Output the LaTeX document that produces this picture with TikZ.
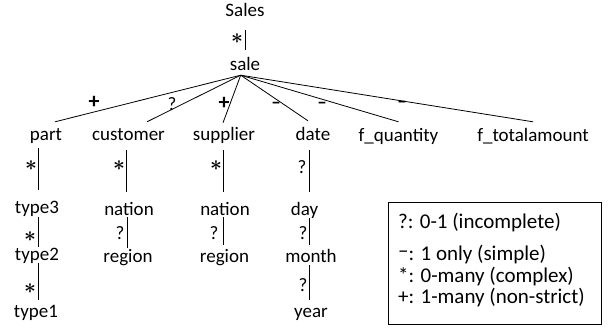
\documentclass[tikz,border=0pt]{standalone}
\usepackage{fontspec}
\setmainfont{Carlito}
\usetikzlibrary{calc}
\begin{document}
\begin{tikzpicture}[x=1pt,y=-1pt,
  lbl/.style={font=\fontsize{19}{19}\selectfont, inner sep=0pt, anchor=base, text height=13pt, text depth=4pt},
  card/.style={font=\fontsize{19}{19}\selectfont, inner sep=0pt},
  star/.style={font=\fontsize{20}{20}\selectfont\boldmath, inner sep=0pt, anchor=base},
  plus/.style={font=\fontsize{22}{22}\selectfont\bfseries, inner sep=0pt},
  onedash/.style={font=\fontsize{19}{19}\selectfont\bfseries, inner sep=0pt},
  leg/.style={font=\fontsize{21}{21}\selectfont, inner sep=0pt, anchor=base west},
  conn/.style={line width=0.8pt}]
\useasboundingbox (0,0) rectangle (614,329);
% tree nodes
\node[lbl] (Sales) at (245,17) {Sales};
\node[lbl] (sale) at (245,71) {sale};
\node[lbl] (part) at (46,141) {part};
\node[lbl] (customer) at (128.5,141) {customer};
\node[lbl] (supplier) at (224,141) {supplier};
\node[lbl] (date) at (313,141) {date};
\node[lbl] (fq) at (398.5,142) {f\_quantity};
\node[lbl] (ft) at (533,142) {f\_totalamount};
\node[lbl] (type3) at (37,213) {type3};
\node[lbl] (type2) at (37,260) {type2};
\node[lbl] (type1) at (36,317) {type1};
\node[lbl] (nationA) at (129,215) {nation};
\node[lbl] (regionA) at (128,262) {region};
\node[lbl] (nationB) at (225,215) {nation};
\node[lbl] (regionB) at (224.5,262) {region};
\node[lbl] (day) at (304.5,215) {day};
\node[lbl] (month) at (311,262) {month};
\node[lbl] (year) at (311,317) {year};
% connectors
\coordinate (hub) at ($(sale.south)+(-4.3,0)$);
\draw[conn] ($(Sales.south)+(0,9)$) -- ($(sale.north)+(0,-8)$);
\draw[conn] (hub) -- ($(part.north)+(9,-6)$);
\draw[conn] (hub) -- ($(customer.north)+(18.5,-6)$);
\draw[conn] (hub) -- ($(supplier.north)+(-1,-5)$);
\draw[conn] (hub) -- ($(date.north)+(-5,-7)$);
\draw[conn] (hub) -- ($(fq.north)+(0,-7)$);
\draw[conn] (hub) -- ($(ft.north)+(0,-7)$);
\draw[conn] ($(part.south)+(-8,3)$) -- ($(type3.north)+(1,-10)$);
\draw[conn] ($(type3.south)+(1,0)$) -- ($(type2.north)+(1,0)$);
\draw[conn] ($(type2.south)+(1,-1)$) -- ($(type1.north)+(2,-4)$);
\draw[conn] ($(customer.south)+(-2.5,5)$) -- ($(nationA.north)+(-3,-10)$);
\draw[conn] ($(nationA.south)+(-2,-2)$) -- ($(regionA.north)+(-1,-1)$);
\draw[conn] ($(supplier.south)+(-1,5)$) -- ($(nationB.north)+(-2,-10)$);
\draw[conn] ($(nationB.south)+(-2,-2)$) -- ($(regionB.north)+(-1.5,-4)$);
\draw[conn] ($(date.south)+(-4,5)$) -- ($(day.north)+(4.5,-10)$);
\draw[conn] ($(day.south)+(4.5,-1)$) -- ($(month.north)+(-2,-4)$);
\draw[conn] ($(month.south)+(-2,-1)$) -- ($(year.north)+(-2,-4)$);
% cardinality labels
\node[star] (c0) at (237,44) {$\ast$};
\node[plus] (c1) at (94,102) {+};
\node[card] (c2) at (172,104) {?};
\node[plus] (c3) at (224,103) {+};
\node[onedash] (c4) at (276,105.5) {–};
\node[onedash] (c5) at (322,105.5) {–};
\node[onedash] (c6) at (402,104.5) {–};
\node[star] (c7) at (31,170.3) {$\ast$};
\node[star] (c8) at (30,241.3) {$\ast$};
\node[star] (c9) at (30,293.3) {$\ast$};
\node[star] (c10) at (119,170.3) {$\ast$};
\node[card] (c11) at (120,233) {?};
\node[star] (c12) at (216,170.3) {$\ast$};
\node[card] (c13) at (214,233) {?};
\node[card] (c14) at (302,167) {?};
\node[card] (c15) at (303,233) {?};
\node[card] (c16) at (303,285) {?};
% legend
\node[draw, line width=0.8pt, minimum width=213pt, minimum height=122pt, inner sep=0pt] (legend) at (494.5,263) {};
\node[leg] (l1) at (398,228) {?: 0-1 (incomplete)};
\node[leg] (l2) at (398,260) {\raisebox{2.5pt}{–}: 1 only (simple)};
\node[leg] (l3) at (398,282) {*: 0-many (complex)};
\node[leg] (l4) at (398,303) {+: 1-many (non-strict)};
\end{tikzpicture}
\end{document}
